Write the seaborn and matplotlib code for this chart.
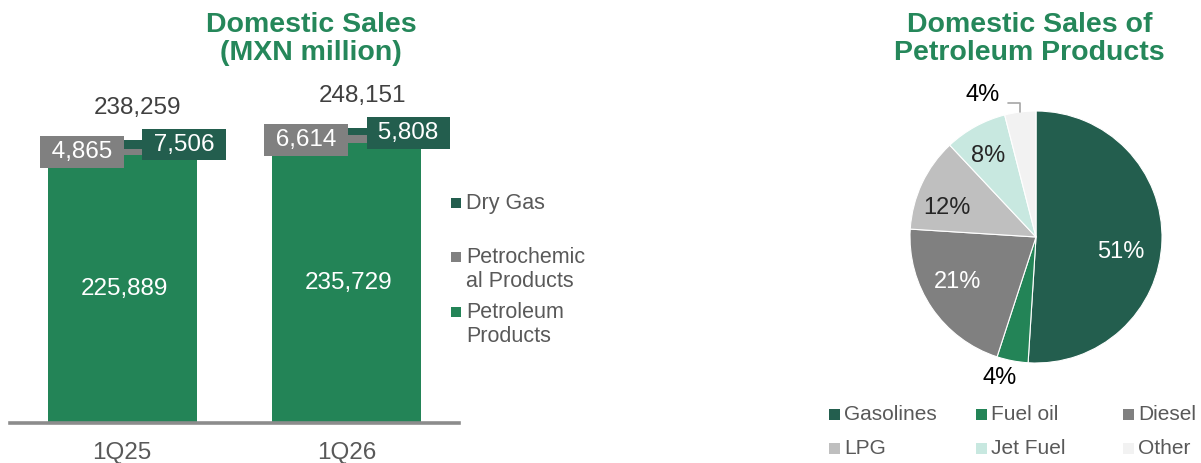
import numpy as np
import pandas as pd
import matplotlib
matplotlib.use("Agg")
import matplotlib.pyplot as plt
from matplotlib.patches import Rectangle
import seaborn as sns

# ---- data -------------------------------------------------------------
quarters = ["1Q25", "1Q26"]
petroleum_products = [225889, 235729]
petrochemical_products = [4865, 6614]
dry_gas = [7506, 5808]
totals = [238259, 248151]

pie_labels = ["Gasolines", "Fuel oil", "Diesel", "LPG", "Jet Fuel", "Other"]
pie_shares = [51, 4, 21, 12, 8, 4]

# ---- style ------------------------------------------------------------
sns.set_theme(style="white")
plt.rcParams["font.family"] = ["Liberation Sans", "DejaVu Sans"]

DARK_GREEN = "#235E4E"
GREEN = "#238457"
GREY = "#808080"
LIGHT_GREY = "#BFBFBF"
MINT = "#C8E8E0"
PALE = "#F2F2F2"
TITLE_GREEN = "#25875A"
VALUE_TXT = "#404040"
LEGEND_TXT = "#595959"

W, H = 1201, 463
fig = plt.figure(figsize=(W / 100, H / 100), dpi=100)


def fx(px):
    return px / W


def fy(py):
    return 1 - py / H


# ---- stacked bars -----------------------------------------------------
BASE, TOP = 423, 60
ax = fig.add_axes([fx(10), fy(BASE), fx(449), (BASE - TOP) / H])
df = pd.DataFrame({
    "quarter": quarters,
    "petroleum": petroleum_products,
    "petrochem": petrochemical_products,
    "drygas": dry_gas,
})
df["lvl2"] = df["petroleum"] + df["petrochem"]
df["lvl3"] = df["lvl2"] + df["drygas"]

bar_w = 0.664
for col, colr in [("lvl3", DARK_GREEN), ("lvl2", GREY), ("petroleum", GREEN)]:
    sns.barplot(data=df, x="quarter", y=col, color=colr, saturation=1,
                width=bar_w, linewidth=0, ax=ax)

ax.set_xlim(-0.5, 1.5)
ax.set_ylim(0, 305600)
ax.set_xlabel("")
ax.set_ylabel("")
ax.set_yticks([])
for s in ["left", "right", "top"]:
    ax.spines[s].set_visible(False)
ax.spines["bottom"].set_color("#8C8C8C")
ax.spines["bottom"].set_linewidth(2.6)
ax.tick_params(axis="x", length=0, pad=13.5, labelsize=17.5, labelcolor=LEGEND_TXT)

for i in range(len(quarters)):
    # segment value inside the main bar
    ax.text(i + 0.01, petroleum_products[i] / 2, f"{petroleum_products[i]:,}",
            ha="center", va="center", color="white", fontsize=17.5)
    # boxed values of the thin top segments
    ax.text(i - 0.18, totals[i] - 10000, f" {petrochemical_products[i]:,} ",
            ha="center", va="center", color="white", fontsize=17.5,
            bbox=dict(boxstyle="square,pad=0.2", fc=GREY, ec="none"))
    ax.text(i + 0.275, totals[i] - 3800, f" {dry_gas[i]:,} ",
            ha="center", va="center", color="white", fontsize=17.5,
            bbox=dict(boxstyle="square,pad=0.2", fc=DARK_GREEN, ec="none"),
            clip_on=False)
    # totals above the bars
    ax.text(i + 0.068, totals[i] + 27000, f"{totals[i]:,}", ha="center",
            va="center", color=VALUE_TXT, fontsize=17.5)

# legend of the bar chart
bar_legend = [
    (DARK_GREEN, "Dry Gas", 203),
    (GREY, "Petrochemic\nal Products", 257),
    (GREEN, "Petroleum\nProducts", 312),
]
for colr, lab, ypx in bar_legend:
    fig.patches.append(Rectangle((fx(451), fy(ypx + 5)), fx(10), 10 / H,
                                 transform=fig.transFigure, fc=colr, ec="none"))
    nlines = lab.count("\n") + 1
    fig.text(fx(466), fy(ypx + 12.5 * (nlines - 1)), lab, ha="left", va="center",
             fontsize=15.5, color=LEGEND_TXT, linespacing=1.15)

fig.text(fx(311), fy(39), "Domestic Sales\n(MXN million)", ha="center",
         va="center", fontsize=20.5, fontweight="bold", color=TITLE_GREEN,
         linespacing=1.15)

# ---- pie --------------------------------------------------------------
R = 126
cx, cy = 1036, 237
pax = fig.add_axes([fx(cx - 1.25 * R), fy(cy + 1.25 * R), fx(2.5 * R), 2.5 * R / H])
pie_colors = [DARK_GREEN, GREEN, GREY, LIGHT_GREY, MINT, PALE]
wedges, _ = pax.pie(pie_shares, colors=pie_colors, startangle=90,
                    counterclock=False,
                    wedgeprops=dict(edgecolor="white", linewidth=0.8))
pax.set_xlim(-1.25, 1.25)
pax.set_ylim(-1.25, 1.25)
pax.set_aspect("equal")
pax.axis("off")

# label radius and angular nudge (degrees) for each slice
label_r = [0.68, 1.155, 0.72, 0.74, 0.75, None]
label_shift = [-8.3, -3.5, -4.5, 7.2, 1.8, 0.0]
label_c = ["white", "black", "white", "#262626", "#262626", "black"]
for w, share, r, sh, c in zip(wedges, pie_shares, label_r, label_shift, label_c):
    mid = np.deg2rad((w.theta1 + w.theta2) / 2 + sh)
    if r is not None:
        pax.text(r * np.cos(mid), r * np.sin(mid), f"{share}%", ha="center",
                 va="center", fontsize=17, color=c)
    else:
        ex, ey = np.cos(mid), np.sin(mid)
        elbow_y = ey + 0.07
        pax.plot([ex, ex, ex - 0.10], [ey, elbow_y, elbow_y], color="#A6A6A6",
                 lw=1.2, clip_on=False)
        pax.text(ex - 0.16, elbow_y + 0.063, f"{share}%", ha="right", va="center",
                 fontsize=17, color=c)

# legend of the pie
col_x = [829, 976, 1123]
row_y = [414, 448]
for k, (lab, colr) in enumerate(zip(pie_labels, pie_colors)):
    xpx = col_x[k % 3]
    ypx = row_y[k // 3]
    fig.patches.append(Rectangle((fx(xpx), fy(ypx + 5.5)), fx(11), 11 / H,
                                 transform=fig.transFigure, fc=colr, ec="none"))
    fig.text(fx(xpx + 15), fy(ypx), lab, ha="left", va="center", fontsize=15,
             color=LEGEND_TXT)

fig.text(fx(1029.5), fy(39), "Domestic Sales of\nPetroleum Products", ha="center",
         va="center", fontsize=20.5, fontweight="bold", color=TITLE_GREEN,
         linespacing=1.15)

fig.savefig("out.png", dpi=100, facecolor="white")
